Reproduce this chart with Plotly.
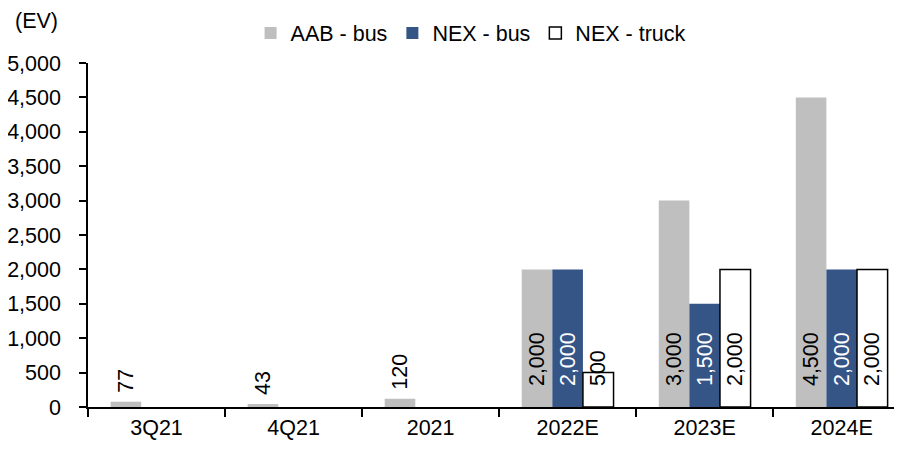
import plotly.graph_objects as go

categories = ["3Q21", "4Q21", "2021", "2022E", "2023E", "2024E"]
aab_bus = [77, 43, 120, 2000, 3000, 4500]
nex_bus = [None, None, None, 2000, 1500, 2000]
nex_truck = [None, None, None, 500, 2000, 2000]
y_ticks = [0, 500, 1000, 1500, 2000, 2500, 3000, 3500, 4000, 4500, 5000]

FONT = "Liberation Sans, Arial, sans-serif"
FS = 21.5
NB = "\u00a0"

def positions(vals):
    return ["outside" if (v is not None and v < 300) else "inside" for v in vals]

def labels(vals):
    out = []
    for v in vals:
        if v is None:
            out.append("")
        elif v < 300:
            out.append(NB + f"{v:,}")
        else:
            out.append(NB * 3 + f"{v:,}")
    return out

fig = go.Figure()
fig.add_trace(go.Bar(
    name="AAB - bus", x=categories, y=aab_bus,
    marker=dict(color="#BFBFBF", line=dict(width=0)),
    text=labels(aab_bus), textposition=positions(aab_bus),
    textangle=-90, insidetextanchor="start",
    textfont=dict(color="#000000", size=FS, family=FONT),
    cliponaxis=False,
))
fig.add_trace(go.Bar(
    name="NEX - bus", x=categories, y=nex_bus,
    marker=dict(color="#355587", line=dict(width=0)),
    text=labels(nex_bus), textposition="inside",
    textangle=-90, insidetextanchor="start",
    textfont=dict(color="#FFFFFF", size=FS, family=FONT),
))
fig.add_trace(go.Bar(
    name="NEX - truck", x=categories, y=nex_truck,
    marker=dict(color="#FFFFFF", line=dict(color="#000000", width=1.5)),
    text=labels(nex_truck), textposition="inside",
    textangle=-90, insidetextanchor="start",
    textfont=dict(color="#000000", size=FS, family=FONT),
))

fig.update_layout(
    width=894, height=442,
    margin=dict(l=80, r=0, t=55, b=43, autoexpand=False),
    paper_bgcolor="white", plot_bgcolor="white",
    font=dict(family=FONT, size=FS, color="#000000"),
    barmode="group", bargap=0.33, bargroupgap=0,
    uniformtext=dict(minsize=FS, mode="show"),
    showlegend=True,
    legend=dict(orientation="h", x=0.470, xanchor="center", y=1.087, yanchor="middle",
                font=dict(size=FS, family=FONT), bgcolor="rgba(0,0,0,0)",
                itemwidth=30, tracegroupgap=0),
    annotations=[dict(text="(EV)", xref="paper", yref="paper", x=-0.0627, y=1.122,
                      xanchor="center", yanchor="middle", showarrow=False, borderpad=0,
                      font=dict(size=FS, family=FONT))],
)
fig.update_xaxes(
    type="category", range=[-0.5, 5.44],
    showline=True, linecolor="#000000", linewidth=1.5,
    ticks="outside", tickson="boundaries", ticklen=8, tickcolor="#000000", tickwidth=1.5,
    showgrid=False, zeroline=False,
    tickfont=dict(size=FS, family=FONT),
)
fig.update_yaxes(
    range=[0, 5000], tickvals=y_ticks, tickformat=",",
    showline=True, linecolor="#000000", linewidth=1.5,
    ticks="outside", ticklen=7, tickcolor="#000000", tickwidth=1.5,
    ticklabelstandoff=14,
    showgrid=False, zeroline=False,
    tickfont=dict(size=FS, family=FONT),
)

fig.write_html("out.html")
